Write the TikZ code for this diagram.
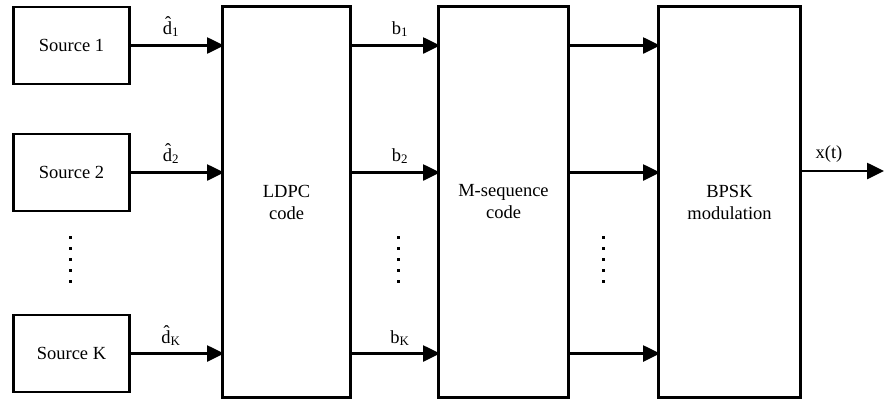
\documentclass[tikz,border=0pt]{standalone}
\usepackage{fontspec}
\setmainfont{Liberation Serif}
\usetikzlibrary{arrows.meta}
\begin{document}
\begin{tikzpicture}[x=1pt,y=-1pt,
  blk/.style={draw, line width=2.8pt, inner sep=0pt, outer sep=0pt, align=center,
    font=\fontsize{18.5}{22}\selectfont},
  srcbox/.style={blk, minimum width=116pt, minimum height=77pt},
  bigbox/.style={blk, minimum height=391pt},
  arr/.style={line width=2.6pt, -{Triangle[length=17pt,width=16pt]}, shorten >=-1.5pt},
  lbl/.style={anchor=south, inner sep=0pt, font=\fontsize{18.5}{22}\selectfont},
  dot/.style={fill, minimum size=3pt, inner sep=0pt, outer sep=0pt}
]
\useasboundingbox (0,0) rectangle (884,402);
% sources
\node[srcbox] (s1) at (71.5,45.5) {Source 1};
\node[srcbox] (s2) at (71.5,172.5) {Source 2};
\node[srcbox] (sk) at (71.5,353.5) {Source K};
% big blocks
\node[bigbox, minimum width=128pt] (ldpc) at (286.5,202) {LDPC\\code};
\node[bigbox, minimum width=130pt] (mseq) at (503.5,202) {M-sequence\\code};
\node[bigbox, minimum width=142pt] (bpsk) at (729.5,202) {BPSK\\modulation};
\coordinate (out) at (884,171);
% source arrows
\draw[arr] (s1.east) -- (s1.east -| ldpc.west);
\draw[arr] (s2.east) -- (s2.east -| ldpc.west);
\draw[arr] (sk.east) -- (sk.east -| ldpc.west);
% b arrows
\draw[arr] (s1.east -| ldpc.east) -- (s1.east -| mseq.west);
\draw[arr] (s2.east -| ldpc.east) -- (s2.east -| mseq.west);
\draw[arr] (sk.east -| ldpc.east) -- (sk.east -| mseq.west);
% m-seq arrows
\draw[arr] (s1.east -| mseq.east) -- (s1.east -| bpsk.west);
\draw[arr] (s2.east -| mseq.east) -- (s2.east -| bpsk.west);
\draw[arr] (sk.east -| mseq.east) -- (sk.east -| bpsk.west);
% output
\draw[arr, shorten >=0pt] (out -| bpsk.east) -- (out);
% labels
\node[lbl] (ld1) at (171,37) {\^{d}\textsubscript{1}};
\node[lbl] (ld2) at (171,164) {\^{d}\textsubscript{2}};
\node[lbl] (ldk) at (171,346) {\^{d}\textsubscript{K}};
\node[lbl] (lb1) at (400,37) {b\textsubscript{1}};
\node[lbl] (lb2) at (400,164) {b\textsubscript{2}};
\node[lbl] (lbk) at (400,346) {b\textsubscript{K}};
\node[lbl] (lx) at (829,163) {x(t)};
% dots
\foreach \i in {0,...,4} {
  \node[dot] (da\i) at (70,237+11*\i) {};
  \node[dot] (db\i) at (398,237+11*\i) {};
  \node[dot] (dc\i) at (603,237+11*\i) {};
}
\end{tikzpicture}
\end{document}
